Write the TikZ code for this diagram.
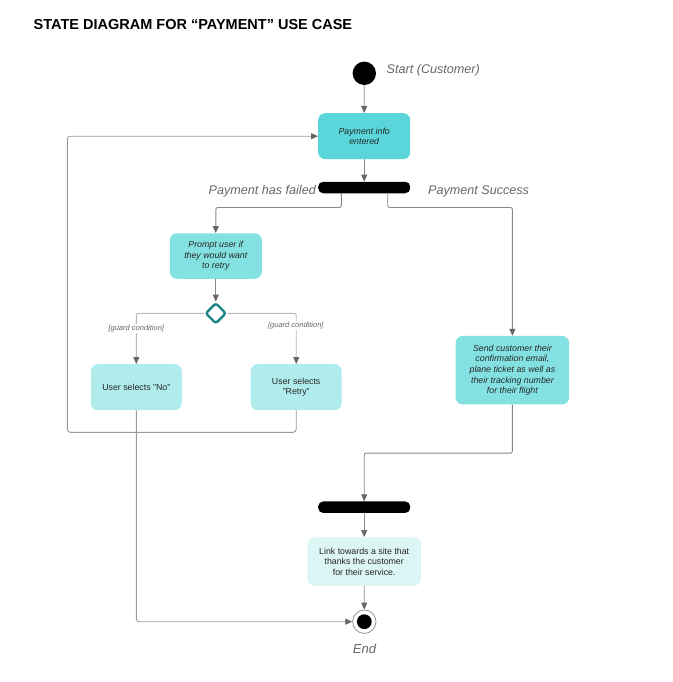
\documentclass[tikz,border=0pt]{standalone}
\usepackage{fontspec}
\setmainfont{Liberation Sans}
\usetikzlibrary{arrows.meta,shapes.geometric}
\definecolor{infofill}{HTML}{5AD6DA}
\definecolor{promptfill}{HTML}{84E1E2}
\definecolor{selfill}{HTML}{B1ECEC}
\definecolor{linkfill}{HTML}{DCF5F5}
\definecolor{choiceline}{HTML}{1A8585}
\definecolor{flowline}{HTML}{888888}
\definecolor{labelgray}{HTML}{666666}
\tikzset{
  state/.style={rectangle, rounded corners=7, inner sep=1, align=center, text=black!85,
    font=\fontsize{8.8}{10.6}\selectfont},
  statei/.style={state, font=\fontsize{8.8}{10.6}\selectfont\itshape},
  bar/.style={rectangle, fill=black, rounded corners=5, minimum width=92, minimum height=11.5, inner sep=0},
  startdot/.style={circle, fill=black, minimum size=23.4, inner sep=0},
  enddot/.style={circle, draw=flowline, fill=white, line width=0.7, minimum size=23.4, inner sep=0},
  choice/.style={diamond, draw=choiceline, line width=2.4, rounded corners=2.5, minimum size=21, inner sep=0},
  lbl/.style={text=labelgray, font=\fontsize{12.6}{14}\selectfont\itshape, inner sep=0},
  guard/.style={text=labelgray, fill=white, font=\fontsize{7.5}{8}\selectfont\itshape, inner sep=0.8},
  flow/.style={draw=flowline, line width=0.9, -{Triangle[length=7,width=6,fill=black!60,color=black!60]}},
  branch/.style={flow, draw=black!28},
}
\begin{document}
\begin{tikzpicture}[x=1pt,y=-1pt]
		%%%%% START %%%%%
		\useasboundingbox (0,0) rectangle (672,682);
		\node[anchor=west, inner sep=0, font=\fontsize{14.5}{16}\selectfont\bfseries] (title) at (33.5,24.5) {STATE DIAGRAM FOR “PAYMENT” USE CASE};
		
		\node[startdot] (start) at (364.3,73.3) {};
		\node[lbl, anchor=west] (startlbl) at (386.5,70) {Start (Customer)};
		\node[statei, fill=infofill, minimum width=92, minimum height=46] (info) at (364.2,136.2) {Payment info\\entered};
		\node[bar] (fork) at (364.2,187.5) {};
		\node[lbl, anchor=east] (faillbl) at (316,191.7) {Payment has failed};
		\node[lbl, anchor=west] (oklbl) at (428,191.7) {Payment Success};
		
		\node[statei, fill=promptfill, minimum width=92, minimum height=45.5] (prompt) at (215.8,256) {Prompt user if\\they would want\\to retry};
		\node[choice] (retryq) at (215.8,313.3) {};
		\node[state, fill=selfill, minimum width=91, minimum height=46] (no) at (136.3,387.2) {User selects "No"};
		\node[state, fill=selfill, minimum width=91, minimum height=46] (retry) at (296.2,387.2) {User selects\\"Retry"};
		
		\node[statei, fill=promptfill, minimum width=113.5, minimum height=68.5] (send) at (512.4,370.2) {Send customer their\\confirmation email,\\plane ticket as well as\\their tracking number\\for their flight};
		\node[bar] (join) at (364.2,507.2) {};
		\node[state, fill=linkfill, minimum width=113.5, minimum height=48.5] (link) at (364.2,561.5) {Link towards a site that\\thanks the customer\\for their service.};
		\node[enddot] (end) at (364.3,621.7) {};
		\fill (end.center) circle (7.4);
		\node[lbl, font=\fontsize{13}{15}\selectfont\itshape] (endlbl) at (364.5,648.5) {End};
		
		\draw[flow] (start) -- (info);
		\draw[flow] (info) -- (fork);
		\draw[flow, rounded corners=2] ([xshift=-22.9]fork.south) -- ++(0,14) -| (prompt.north);
		\draw[flow, rounded corners=2] ([xshift=23.5]fork.south) -- ++(0,14) -| (send.north);
		\draw[flow] (prompt) -- (retryq);
		\draw[branch, rounded corners=2] (retryq.west) -| (no.north);
		\draw[branch, rounded corners=2] (retryq.east) -| (retry.north);
		\node[guard] (guardno) at (136.3,328.3) {[guard condition]};
		\node[guard] (guardretry) at (295.8,325.7) {[guard condition]};
		\coordinate (loopturn) at (67.3,432.3);
		\draw[flow, draw=black!40, rounded corners=3] (retry.south) |- (loopturn) |- (info.west);
		\draw[flow, draw=black!40, rounded corners=3] (no.south) |- (end.west);
		\draw[flow, rounded corners=2] (send.south) -- ++(0,48.5) -| (join.north);
		\draw[flow] (join) -- (link);
		\draw[flow] (link) -- (end);
		%%%%% END %%%%%
\end{tikzpicture}
\end{document}
